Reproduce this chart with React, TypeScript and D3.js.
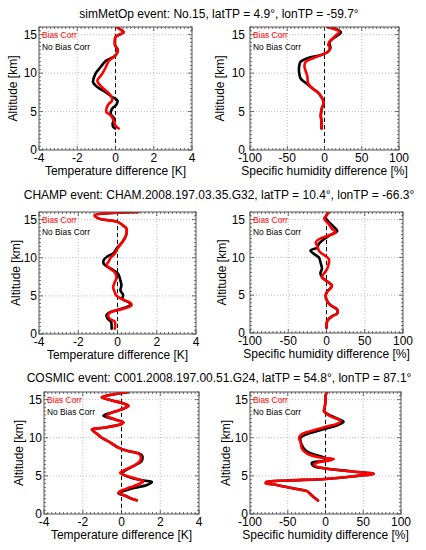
import React from "react";
import * as d3 from "d3";

// ---------- DATA (altitude km, value) ----------
const titles = [
  "simMetOp event: No.15, latTP = 4.9°, lonTP = -59.7°",
  "CHAMP event: CHAM.2008.197.03.35.G32, latTP = 10.4°, lonTP = -66.3°",
  "COSMIC event: C001.2008.197.00.51.G24, latTP = 54.8°, lonTP = 87.1°",
];
const tempTicks = [-4, -2, 0, 2, 4];
const humTicks = [-100, -50, 0, 50, 100];
const altTicks = [0, 5, 10, 15];
const legendLabels = ["Bias Corr", "No Bias Corr"];
const tempLabel = "Temperature difference [K]";
const humLabel = "Specific humidity difference [%]";
const altLabel = "Altitude [km]";

const metopTempBias: [number, number][] = [
  [16, 0.05], [15.6, 0.3], [15.3, 0.43], [15.0, 0.2], [14.7, 0.0], [14.2, -0.03], [13.6, -0.02],
  [13.0, 0.12], [12.3, 0.0], [11.6, -0.35], [10.8, -0.5], [9.9, -0.7], [9.0, -0.95], [8.4, -0.8],
  [7.7, -0.5], [7.1, -0.25], [6.45, -0.17], [6.0, -0.35], [5.4, -0.47], [4.9, -0.47], [4.5, -0.25],
  [3.85, -0.1], [3.2, 0.0], [2.8, 0.17],
];
const metopTempNoBias: [number, number][] = [
  [16, 0.05], [15.6, 0.3], [15.3, 0.43], [15.0, 0.2], [14.7, 0.0], [14.2, -0.03], [13.6, -0.02],
  [13.0, 0.12], [12.3, 0.0], [11.6, -0.5], [10.8, -0.78], [9.9, -1.05], [8.8, -1.17], [8.2, -0.95],
  [7.5, -0.5], [6.9, -0.17], [6.45, 0.1], [5.9, 0.05], [5.4, -0.17], [4.7, -0.25], [4.1, -0.08],
  [3.4, -0.15], [3.0, -0.12], [2.8, -0.02],
];
const metopHumBias: [number, number][] = [
  [16, 4], [15.7, 14], [15.4, 20], [14.8, 14], [14.1, 7], [13.7, 5], [13.3, 7], [12.8, 5],
  [12.4, -3.5], [12.0, -14], [11.5, -25], [10.9, -27], [10.2, -25], [9.6, -23], [8.7, -22],
  [8.0, -16], [7.4, -8], [6.7, -3], [6.1, -1], [5.6, -3], [5.2, -4], [4.5, -5], [3.7, -4], [2.8, -4],
];
const metopHumNoBias: [number, number][] = [
  [16, 4], [15.7, 16], [15.3, 22], [14.8, 16], [14.1, 7], [13.7, 7], [13.3, 8], [12.8, 5],
  [12.4, -3.5], [12.0, -21], [11.5, -32], [10.9, -34], [10.0, -34], [9.3, -32], [8.7, -25],
  [8.0, -16], [7.4, -8], [6.7, -3], [6.1, -1], [5.6, -3], [5.2, -4], [4.5, -5], [3.7, -4], [2.8, -4],
];
const champTempBias: [number, number][] = [
  [16, 1.06], [15.57, -1.16], [15.1, -0.9], [14.9, -0.39], [14.7, 0.0], [14.2, 0.3], [13.8, 0.46],
  [13.2, 0.46], [12.6, 0.38], [11.9, 0.2], [11.2, 0.0], [10.55, -0.13], [10.0, -0.35], [9.5, -0.45],
  [9.1, -0.56], [8.7, -0.45], [8.1, -0.14], [7.4, -0.05], [6.8, -0.14], [6.1, -0.22], [5.5, -0.14],
  [5.1, -0.08], [4.6, 0.2], [4.1, 0.65], [3.8, 0.72], [3.3, 0.29], [2.9, -0.31], [2.5, -0.48],
  [2.0, -0.39], [1.6, -0.14], [1.0, -0.12], [0.7, -0.14],
];
const champTempNoBias: [number, number][] = [
  [16, 1.06], [15.57, -1.16], [15.1, -0.9], [14.9, -0.39], [14.7, 0.0], [14.2, 0.3], [13.8, 0.46],
  [13.2, 0.46], [12.6, 0.38], [11.9, 0.2], [11.2, -0.05], [10.55, -0.22], [10.2, -0.5], [9.7, -0.7],
  [9.2, -0.7], [8.5, -0.3], [7.9, 0.03], [7.0, 0.15], [6.4, 0.2], [5.7, 0.15], [5.1, 0.29],
  [4.6, 0.25], [4.1, 0.6], [3.8, 0.65], [3.3, 0.2], [2.9, -0.35], [2.5, -0.56], [2.0, -0.5],
  [1.6, -0.33], [1.0, -0.3], [0.7, -0.3],
];
const champHumBias: [number, number][] = [
  [16, 3], [15.4, -1], [15.2, -3], [14.8, -1], [14.4, 3], [13.8, 7], [13.3, 12], [12.9, 3],
  [12.4, -10], [12.0, -14], [11.5, -12], [10.9, -10], [10.5, -6], [9.8, 3], [9.2, 3], [8.5, 1],
  [7.9, -3], [7.4, -6], [6.8, 1], [6.3, 7], [5.9, 5], [5.5, 1], [5.0, -1], [4.4, 0], [3.7, 5],
  [3.1, 14], [2.6, 14], [2.2, 7], [1.6, 1], [0.9, 0], [0.7, 0],
];
const champHumNoBias: [number, number][] = [
  [16, 3], [15.4, -1], [15.2, -1], [14.8, 2], [14.4, 6], [14.0, 10], [13.5, 14], [12.9, 4],
  [12.2, -6], [11.8, -10], [11.3, -12], [10.9, -21], [10.5, -17], [10.0, -10], [9.4, -8],
  [8.5, -6], [7.9, -8], [7.4, -6], [6.8, 1], [6.3, 7], [5.9, 5], [5.5, 1], [5.0, -1], [4.4, 0],
  [3.7, 5], [3.1, 14], [2.6, 14], [2.2, 7], [1.6, 1], [0.9, 0], [0.7, 0],
];
const cosmicTempBias: [number, number][] = [
  [16, 0.36], [15.6, -0.59], [15.3, -1.02], [14.9, -0.5], [14.5, 0.1], [14.2, 0.36], [13.8, 0.1],
  [13.3, -0.5], [12.9, -0.76], [12.4, -0.33], [12.0, 0.1], [11.8, 0.0], [11.3, -0.93], [11.1, -1.53],
  [10.7, -1.36], [10.0, -1.02], [9.4, -0.59], [8.7, -0.16], [8.3, 0.28], [8.0, 0.79], [7.7, 0.97],
  [7.0, 0.97], [6.6, 0.8], [6.2, 0.53], [5.7, 0.1], [5.4, -0.07], [5.0, 0.28], [4.6, 0.79],
  [4.3, 1.14], [4.0, 0.97], [3.5, 0.45], [3.1, 0.02], [2.8, -0.16], [2.4, 0.19], [2.0, 0.53],
  [1.8, 0.79],
];
const cosmicTempNoBias: [number, number][] = [
  [16, 0.36], [15.6, -0.59], [15.3, -1.02], [14.9, -0.5], [14.5, 0.1], [14.2, 0.36], [13.8, 0.1],
  [13.3, -0.5], [12.9, -0.93], [12.4, -0.33], [12.0, 0.1], [11.8, 0.0], [11.3, -0.93], [11.1, -1.53],
  [10.7, -1.36], [10.0, -1.02], [9.4, -0.59], [8.7, -0.16], [8.3, 0.28], [8.0, 0.82], [7.7, 1.05],
  [7.0, 1.05], [6.6, 0.85], [6.2, 0.55], [5.7, 0.19], [5.3, 0.02], [4.8, 0.45], [4.4, 1.14],
  [4.2, 1.57], [3.8, 1.31], [3.4, 0.62], [3.0, 0.1], [2.7, -0.16], [2.4, 0.19], [2.0, 0.53],
  [1.8, 0.79],
];
const cosmicHumBias: [number, number][] = [
  [16, 2], [15.5, 0], [14.8, 0], [14.0, -1], [13.5, -2], [13.1, 2], [12.7, 9], [12.2, 20],
  [11.8, 15], [11.6, 7], [11.1, -11], [10.5, -31], [10.0, -35], [9.4, -33], [8.5, -31], [7.9, -24],
  [7.4, -7], [7.2, 11], [7.0, 4], [6.7, -12], [6.4, -15], [6.0, -2], [5.6, 33], [5.26, 64],
  [5.0, 42], [4.6, 0], [4.4, -50], [4.2, -78], [4.05, -79], [3.9, -70], [3.6, -55], [3.3, -40],
  [2.96, -24], [2.7, -21], [2.43, -18], [2.1, -14], [1.78, -10],
];
const cosmicHumNoBias: [number, number][] = [
  [16, 2], [15.5, 0], [14.8, 0], [14.0, -1], [13.5, -2], [13.1, 3], [12.4, 18], [12.1, 24],
  [11.7, 17], [11.1, -3], [10.5, -24], [10.0, -33], [9.2, -32], [8.3, -26], [7.9, -18], [7.3, 0],
  [7.0, -2], [6.7, -18], [6.3, -16], [6.0, -2], [5.6, 33], [5.26, 64], [5.0, 42], [4.6, 0],
  [4.4, -50], [4.2, -78], [4.05, -79], [3.9, -70], [3.6, -55], [3.3, -40], [2.96, -24], [2.7, -21],
  [2.43, -18], [2.1, -14], [1.78, -10],
];

// ---------- LAYOUT ----------
type Frame = { l: number; t: number; r: number; b: number; tickDx: number; titleDx: number };
const FONT = "'Liberation Sans', Arial, Helvetica, sans-serif";

type PanelProps = {
  id: string;
  f: Frame;
  domain: [number, number];
  ticks: number[];
  minorStep: number;
  xLabel: string;
  bias: [number, number][];
  noBias: [number, number][];
};

function Panel({ id, f, domain, ticks, minorStep, xLabel, bias, noBias }: PanelProps) {
  const x = d3.scaleLinear().domain(domain).range([f.l, f.r]);
  const y = d3.scaleLinear().domain([0, 16]).range([f.b, f.t]);
  const line = d3
    .line<[number, number]>()
    .x((d) => x(d[1]))
    .y((d) => y(d[0]))
    .curve(d3.curveCatmullRom.alpha(0.5));
  const xMinor = d3.range(domain[0], domain[1] + minorStep / 2, minorStep);
  const yMinor = d3.range(0, 16.01, 0.5);
  const majorLen = 4;
  const minorLen = 2;
  const tickColor = "#444";
  return (
    <g>
      <defs>
        <clipPath id={id}>
          <rect x={f.l} y={f.t} width={f.r - f.l} height={f.b - f.t} />
        </clipPath>
      </defs>
      {/* grid */}
      {ticks.slice(1, -1).map((t) => (
        <line key={"gx" + t} x1={x(t)} x2={x(t)} y1={f.t} y2={f.b} stroke="#aaa" strokeWidth={0.8} strokeDasharray="1,2" />
      ))}
      {altTicks.slice(1).map((t) => (
        <line key={"gy" + t} x1={f.l} x2={f.r} y1={y(t)} y2={y(t)} stroke="#aaa" strokeWidth={0.8} strokeDasharray="1,2" />
      ))}
      {/* zero line */}
      <line x1={x(0)} x2={x(0)} y1={f.t} y2={f.b} stroke="#000" strokeWidth={1} strokeDasharray="4,3" />
      {/* minor ticks */}
      {xMinor.map((t, i) => {
        const len = ticks.some((m) => Math.abs(m - t) < 1e-6) ? majorLen : minorLen;
        return (
          <g key={"xm" + i}>
            <line x1={x(t)} x2={x(t)} y1={f.b} y2={f.b - len} stroke={tickColor} strokeWidth={0.8} />
            <line x1={x(t)} x2={x(t)} y1={f.t} y2={f.t + len} stroke={tickColor} strokeWidth={0.8} />
          </g>
        );
      })}
      {yMinor.map((t, i) => {
        const len = t % 5 === 0 ? majorLen : minorLen;
        return (
          <g key={"ym" + i}>
            <line x1={f.l} x2={f.l + len} y1={y(t)} y2={y(t)} stroke={tickColor} strokeWidth={0.8} />
            <line x1={f.r} x2={f.r - len} y1={y(t)} y2={y(t)} stroke={tickColor} strokeWidth={0.8} />
          </g>
        );
      })}
      {/* curves */}
      <g clipPath={`url(#${id})`}>
        <path d={line(noBias) || ""} fill="none" stroke="#000" strokeWidth={2.6} strokeLinejoin="round" strokeLinecap="round" />
        <path d={line(bias) || ""} fill="none" stroke="#ff0000" strokeWidth={2.6} strokeLinejoin="round" strokeLinecap="round" />
      </g>
      {/* frame */}
      <rect x={f.l} y={f.t} width={f.r - f.l} height={f.b - f.t} fill="none" stroke="#555" strokeWidth={1} />
      {/* legend */}
      <text x={f.l + 3} y={f.t + 10.5} fontSize={8.4} fill="#ff0000" fontFamily={FONT}>{legendLabels[0]}</text>
      <text x={f.l + 3} y={f.t + 22.5} fontSize={8.4} fill="#000" fontFamily={FONT}>{legendLabels[1]}</text>
      {/* tick labels */}
      {ticks.map((t) => (
        <text key={"xl" + t} x={x(t)} y={f.b + 12} fontSize={12} textAnchor="middle" fontFamily={FONT}>{t}</text>
      ))}
      {altTicks.map((t) => (
        <text key={"yl" + t} x={f.l - f.tickDx} y={y(t) + 4.3} fontSize={12} textAnchor="end" fontFamily={FONT}>{t}</text>
      ))}
      <text x={(f.l + f.r) / 2} y={f.b + 25} fontSize={12} textAnchor="middle" fontFamily={FONT}>{xLabel}</text>
      <text
        transform={`translate(${f.l - f.titleDx},${(f.t + f.b) / 2}) rotate(-90)`}
        fontSize={12}
        textAnchor="middle"
        dominantBaseline="middle"
        fontFamily={FONT}
      >
        {altLabel}
      </text>
    </g>
  );
}

const frames: Frame[] = [
  { l: 39, t: 27, r: 192, b: 150, tickDx: 2, titleDx: 25 },
  { l: 250, t: 27, r: 399, b: 150, tickDx: 5, titleDx: 29 },
  { l: 39, t: 212, r: 196, b: 334, tickDx: 2, titleDx: 22 },
  { l: 250, t: 212, r: 403, b: 333, tickDx: 5, titleDx: 27 },
  { l: 44, t: 392, r: 199, b: 514, tickDx: 2, titleDx: 24 },
  { l: 250, t: 392, r: 401, b: 514, tickDx: 2, titleDx: 23 },
];
const titleBaselines = [18.3, 199.3, 381.7];

export default function App() {
  return (
    <div style={{ position: "absolute", left: 0, top: 0 }}>
      <svg width={426} height={550} style={{ display: "block", background: "#fff" }}>
        <rect x={0} y={0} width={426} height={550} fill="#fff" />
        {titles.map((t, i) => (
          <text key={t} x={219} y={titleBaselines[i]} fontSize={12} textAnchor="middle" fontFamily={FONT}>{t}</text>
        ))}
        <Panel id="c1" f={frames[0]} domain={[-4, 4]} ticks={tempTicks} minorStep={0.2} xLabel={tempLabel} bias={metopTempBias} noBias={metopTempNoBias} />
        <Panel id="c2" f={frames[1]} domain={[-100, 100]} ticks={humTicks} minorStep={5} xLabel={humLabel} bias={metopHumBias} noBias={metopHumNoBias} />
        <Panel id="c3" f={frames[2]} domain={[-4, 4]} ticks={tempTicks} minorStep={0.2} xLabel={tempLabel} bias={champTempBias} noBias={champTempNoBias} />
        <Panel id="c4" f={frames[3]} domain={[-100, 100]} ticks={humTicks} minorStep={5} xLabel={humLabel} bias={champHumBias} noBias={champHumNoBias} />
        <Panel id="c5" f={frames[4]} domain={[-4, 4]} ticks={tempTicks} minorStep={0.2} xLabel={tempLabel} bias={cosmicTempBias} noBias={cosmicTempNoBias} />
        <Panel id="c6" f={frames[5]} domain={[-100, 100]} ticks={humTicks} minorStep={5} xLabel={humLabel} bias={cosmicHumBias} noBias={cosmicHumNoBias} />
      </svg>
    </div>
  );
}
